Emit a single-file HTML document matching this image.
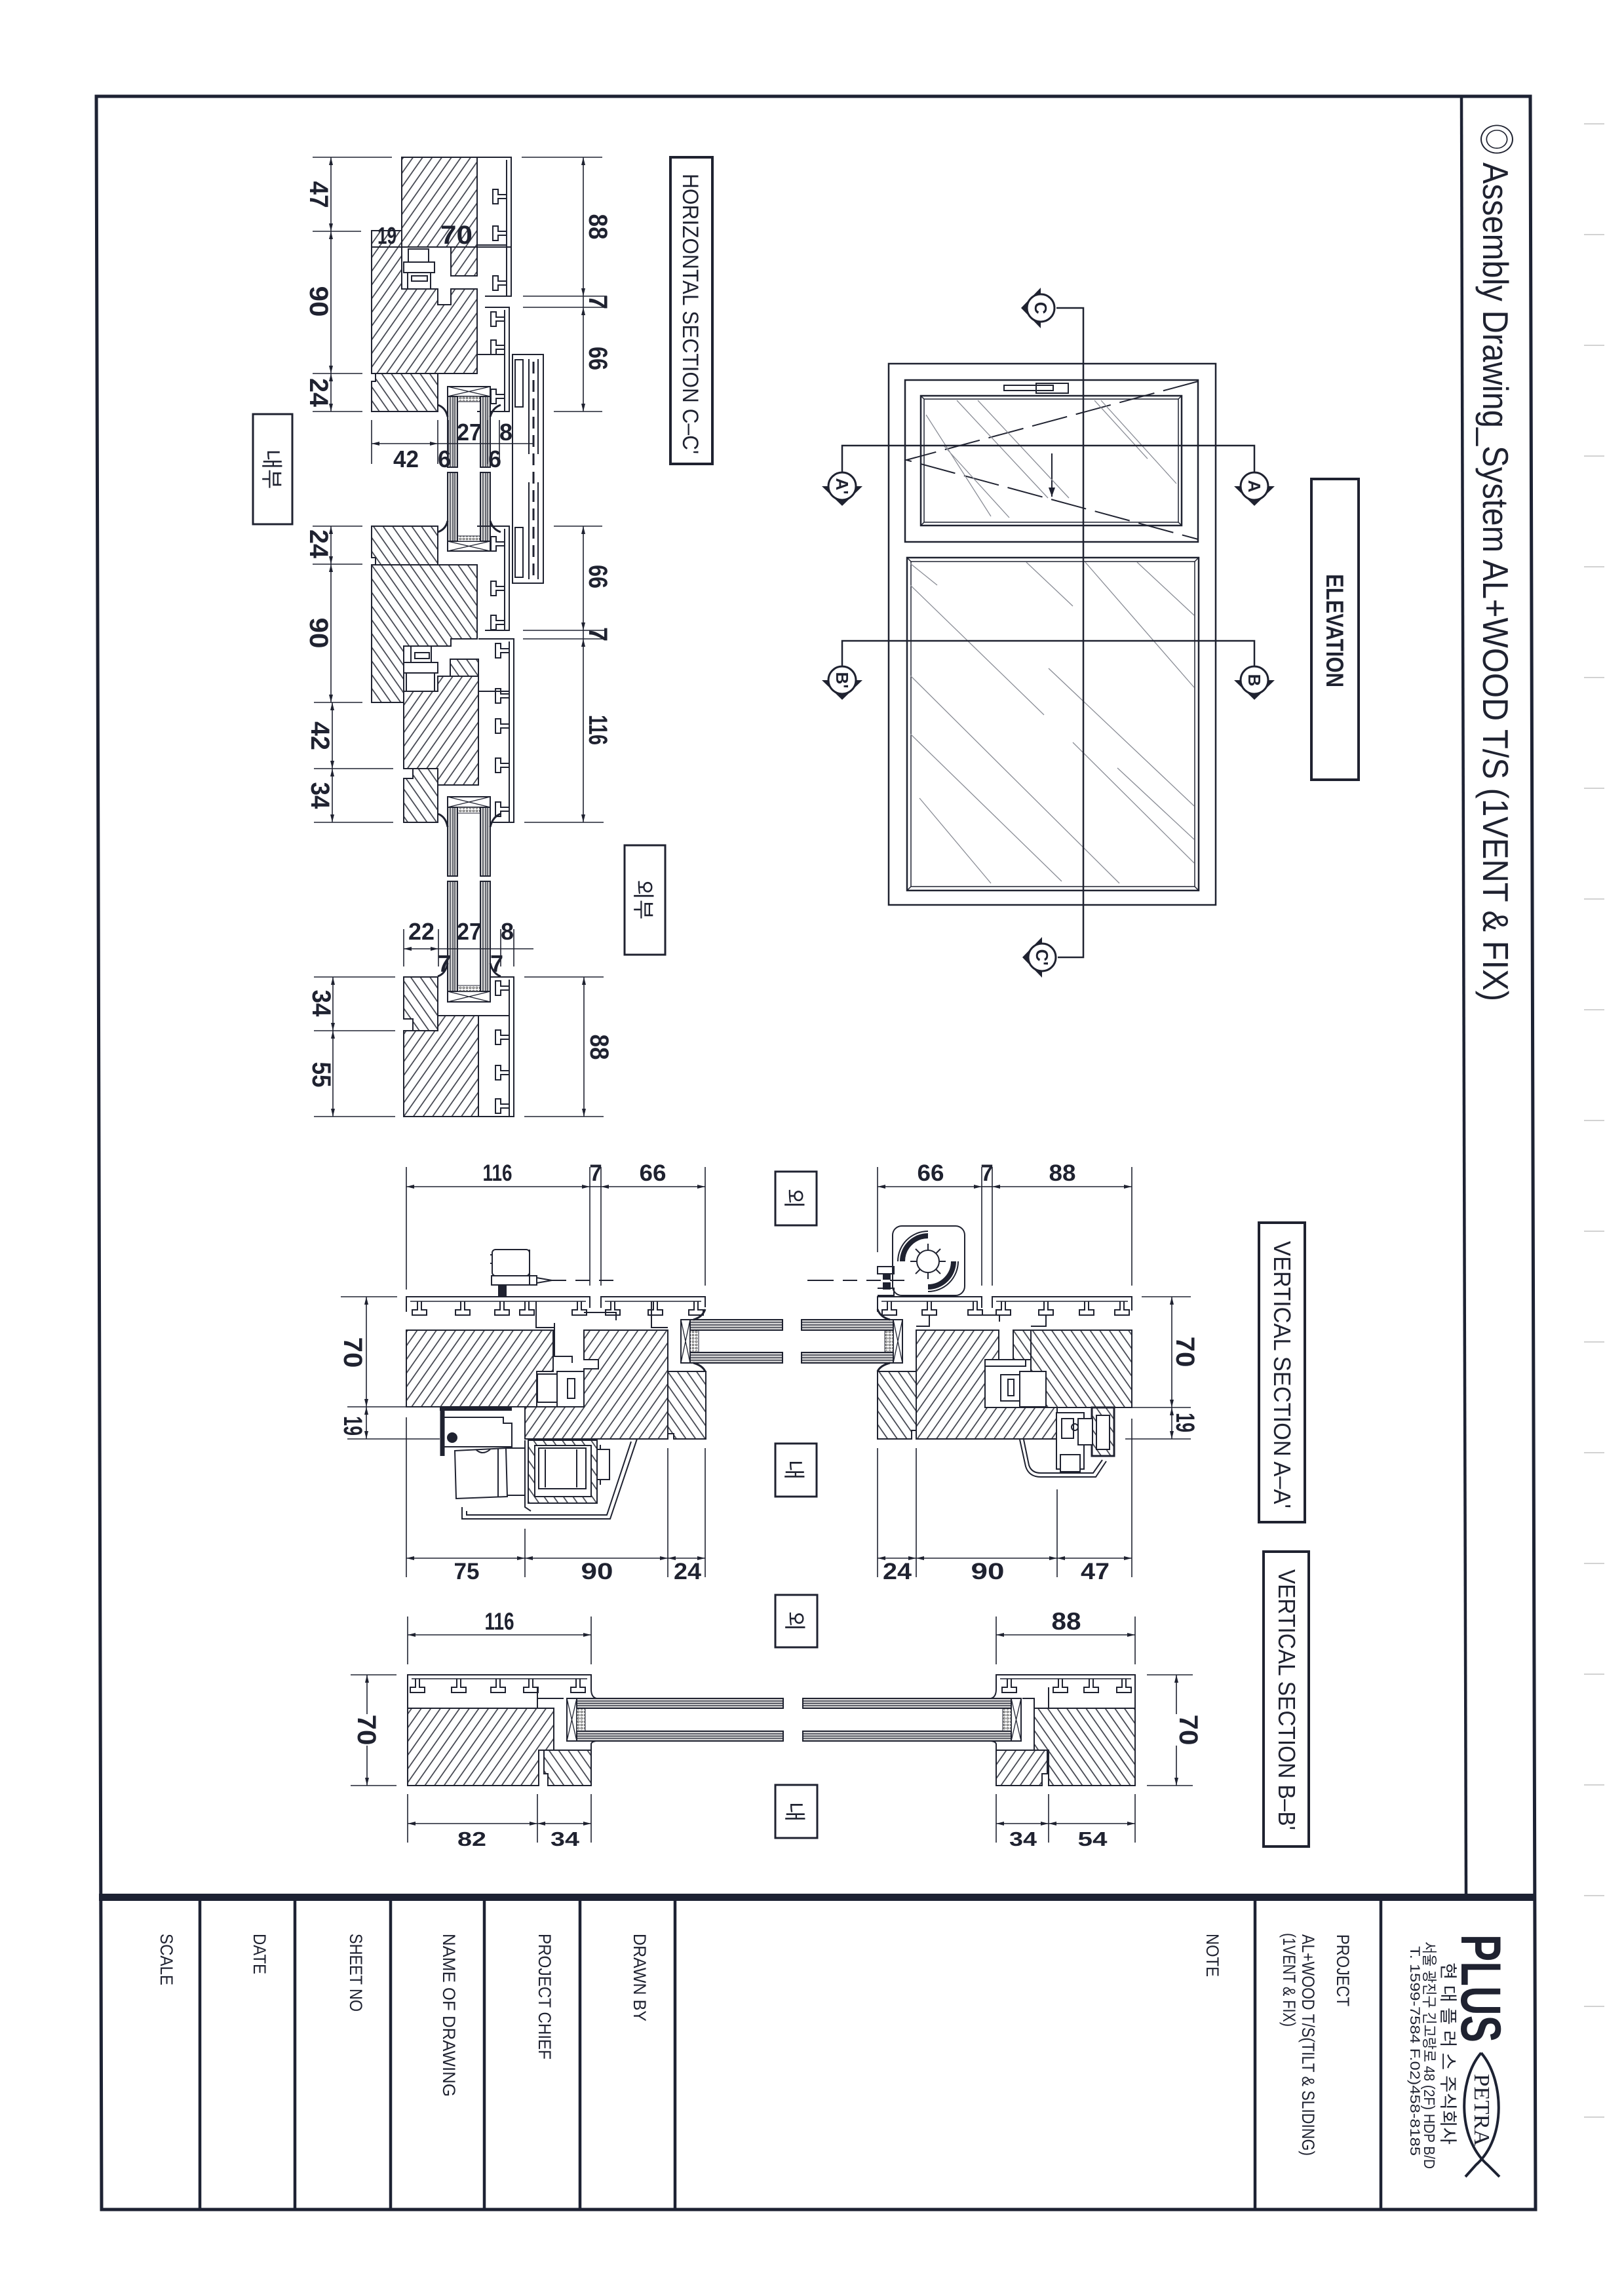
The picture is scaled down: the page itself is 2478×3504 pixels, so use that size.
<!DOCTYPE html>
<html><head><meta charset="utf-8"><title>Assembly Drawing</title>
<style>
html,body{margin:0;padding:0;background:#fff;width:2478px;height:3504px;overflow:hidden}
svg{display:block}
text{font-family:"Liberation Sans","Noto Sans CJK KR",sans-serif;fill:#1f2230;stroke:none}
.b{font-weight:bold}
</style></head><body>
<svg width="2478" height="3504" viewBox="0 0 2478 3504" xmlns="http://www.w3.org/2000/svg" xmlns:xlink="http://www.w3.org/1999/xlink">
<defs>
<pattern id="hA" patternUnits="userSpaceOnUse" width="12" height="12" patternTransform="rotate(35)"><rect width="12" height="12" fill="#fff"/><line x1="6" y1="0" x2="6" y2="12" stroke="#3a3d48" stroke-width="1.7"/></pattern>
<pattern id="hB" patternUnits="userSpaceOnUse" width="12" height="12" patternTransform="rotate(-35)"><rect width="12" height="12" fill="#fff"/><line x1="6" y1="0" x2="6" y2="12" stroke="#3a3d48" stroke-width="1.7"/></pattern>
<pattern id="dots" patternUnits="userSpaceOnUse" width="5" height="5"><rect width="5" height="5" fill="#fff"/><circle cx="2.5" cy="2.5" r="1.4" fill="none" stroke="#333" stroke-width="0.8"/></pattern>
<marker id="ar" viewBox="0 0 12 6" refX="12" refY="3" markerWidth="12" markerHeight="6" markerUnits="userSpaceOnUse" orient="auto-start-reverse"><path d="M0,0 L12,3 L0,6 Z" fill="#1f2230"/></marker>
<marker id="ar2" viewBox="0 0 14 10" refX="14" refY="5" markerWidth="14" markerHeight="10" markerUnits="userSpaceOnUse" orient="auto"><path d="M0,0 L14,5 L0,10 Z" fill="#1f2230"/></marker>
<path id="ts" d="M-3,0 V13 H-11 V21 H11 V13 H3 V0" fill="none" stroke="#1f2230" stroke-width="2"/>
<g id="mk"><path d="M-31,0 L31,0 L0,30 Z" fill="#1f2230"/><circle r="21" fill="#fff" stroke="#1f2230" stroke-width="3"/></g>
</defs>

<!-- ============ PAGE BORDER / TITLE BLOCK ============ -->
<g stroke="#1d2233" fill="none">
<path d="M147,147 L2335,147 L2343,3372 L155,3372 Z" stroke-width="5"/>
<line x1="2230" y1="149" x2="2237" y2="2892" stroke-width="4.5"/>
<path d="M305,2901V3372 M450,2901V3372 M596,2901V3372 M739,2901V3372 M885,2901V3372 M1030,2901V3372 M1915,2901V3372 M2107,2901V3372" stroke-width="4.5"/>
</g>
<rect x="151" y="2890" width="2190" height="11" fill="#1d2233"/>
<g stroke="#c4c4c4" stroke-width="1.5">
<path d="M2417,189H2448 M2417,358H2448 M2417,527H2448 M2417,696H2448 M2417,865H2448 M2417,1034H2448 M2417,1203H2448 M2417,1372H2448 M2417,1541H2448 M2417,1710H2448 M2417,1879H2448 M2417,2048H2448 M2417,2217H2448 M2417,2386H2448 M2417,2555H2448 M2417,2724H2448 M2417,2893H2448 M2417,3062H2448 M2417,3231H2448"/>
</g>

<text transform="translate(2263,188) rotate(90)" font-size="55" textLength="1340" lengthAdjust="spacingAndGlyphs">◎ Assembly Drawing_System AL+WOOD T/S (1VENT &amp; FIX)</text>

<g font-size="27">
<text transform="translate(245,2951) rotate(90)" textLength="79" lengthAdjust="spacingAndGlyphs">SCALE</text>
<text transform="translate(387,2951) rotate(90)" textLength="62" lengthAdjust="spacingAndGlyphs">DATE</text>
<text transform="translate(534,2951) rotate(90)" textLength="119" lengthAdjust="spacingAndGlyphs">SHEET NO</text>
<text transform="translate(676,2951) rotate(90)" textLength="249" lengthAdjust="spacingAndGlyphs">NAME OF DRAWING</text>
<text transform="translate(822,2951) rotate(90)" textLength="192" lengthAdjust="spacingAndGlyphs">PROJECT CHIEF</text>
<text transform="translate(967,2951) rotate(90)" textLength="134" lengthAdjust="spacingAndGlyphs">DRAWN BY</text>
<text transform="translate(1841,2951) rotate(90)" textLength="66" lengthAdjust="spacingAndGlyphs">NOTE</text>
<text transform="translate(2040,2952) rotate(90)" textLength="110" lengthAdjust="spacingAndGlyphs">PROJECT</text>
<text transform="translate(1987,2952) rotate(90)" textLength="338" lengthAdjust="spacingAndGlyphs">AL+WOOD T/S(TILT &amp; SLIDING)</text>
<text transform="translate(1958,2950) rotate(90)" textLength="143" lengthAdjust="spacingAndGlyphs">(1VENT &amp; FIX)</text>
</g>
<!-- logo -->
<text class="b" transform="translate(2230,2952) rotate(90)" font-size="86" textLength="165" lengthAdjust="spacingAndGlyphs" fill="#1d2233">PLUS</text>
<text transform="translate(2200,2995) rotate(90)" font-size="27" textLength="278" lengthAdjust="spacingAndGlyphs" style="font-family:'Liberation Sans','Noto Sans CJK KR',sans-serif">현 대 플 러 스 주식회사</text>
<text transform="translate(2173,2963) rotate(90)" font-size="23" textLength="347" lengthAdjust="spacingAndGlyphs" style="font-family:'Liberation Sans','Noto Sans CJK KR',sans-serif">서울 광진구 긴고랑로 48 (2F) HDP B/D</text>
<text transform="translate(2152,2970) rotate(90)" font-size="21" textLength="320" lengthAdjust="spacingAndGlyphs">T. 1599-7584  F.02)458-8185</text>
<g fill="none" stroke="#1d2233" stroke-width="4">
<path d="M2260,3133 C2226,3172 2222,3262 2270,3304 L2288,3322"/>
<path d="M2260,3133 C2294,3172 2300,3262 2252,3304 L2236,3322"/>
</g>
<text transform="translate(2250,3165) rotate(90)" font-size="34" textLength="110" lengthAdjust="spacingAndGlyphs" style="font-family:'Liberation Serif',serif">PETRA</text>

<!-- ============ SECTION LABEL BOXES ============ -->
<g fill="none" stroke="#1f2230" stroke-width="4">
<rect x="1023" y="240" width="64" height="468"/>
<rect x="2001" y="731" width="72" height="459"/>
<rect x="1921" y="1866" width="70" height="457"/>
<rect x="1928" y="2368" width="69" height="450"/>
</g>
<text transform="translate(1042,265) rotate(90)" font-size="34" textLength="428" lengthAdjust="spacingAndGlyphs">HORIZONTAL SECTION C–C'</text>
<text class="b" transform="translate(2024,876) rotate(90)" font-size="37" textLength="173" lengthAdjust="spacingAndGlyphs">ELEVATION</text>
<text transform="translate(1944,1894) rotate(90)" font-size="36" textLength="408" lengthAdjust="spacingAndGlyphs">VERTICAL SECTION A–A'</text>
<text transform="translate(1951,2395) rotate(90)" font-size="36" textLength="398" lengthAdjust="spacingAndGlyphs">VERTICAL SECTION B–B'</text>

<!-- Korean side labels -->
<g fill="none" stroke="#1f2230" stroke-width="3">
<rect x="386" y="632" width="60" height="168"/>
<rect x="953" y="1290" width="62" height="167"/>
<rect x="1183" y="1788" width="63" height="82"/>
<rect x="1183" y="2203" width="63" height="81"/>
<rect x="1183" y="2434" width="64" height="80"/>
<rect x="1183" y="2724" width="64" height="81"/>
</g>
<g font-size="33" text-anchor="middle">
<text transform="translate(403,716) rotate(90)">내부</text>
<text transform="translate(970,1373) rotate(90)">외부</text>
<text transform="translate(1200,1829) rotate(90)">외</text>
<text transform="translate(1200,2243) rotate(90)">내</text>
<text transform="translate(1201,2474) rotate(90)">외</text>
<text transform="translate(1201,2765) rotate(90)">내</text>
</g>

<!-- ============ HORIZONTAL SECTION C-C' ============ -->
<g stroke="#1f2230" stroke-width="2" fill="none">
<!-- upper vent -->
<path d="M613,240 H728 V377 H613 Z" fill="url(#hA)"/>
<path d="M688,377 H728 V421 H688 Z" fill="url(#hA)"/>
<path d="M567,352 H613 V441 H668 V465 H688 V441 H728 V570 H567 Z" fill="url(#hA)"/>
<line x1="567" y1="377" x2="780" y2="377"/>
<rect x="623" y="380" width="31" height="20" fill="#fff"/>
<rect x="616" y="400" width="47" height="16" fill="#fff"/>
<rect x="622" y="416" width="35" height="25" fill="#fff"/>
<rect x="628" y="421" width="24" height="8" fill="#fff"/>
<path d="M573,570 H668 V628 H567 V582 H573 Z" fill="url(#hB)"/>
<!-- aluminium upper -->
<path d="M728,240 H780 V452 H740 M773,244 V452"/>
<path d="M740,469 H777 V628 H728 M770,473 V628"/>
<path d="M728,541 H770 M728,374 H773"/>
<use xlink:href="#ts" transform="translate(773,300) rotate(90)"/>
<use xlink:href="#ts" transform="translate(773,356) rotate(90)"/>
<use xlink:href="#ts" transform="translate(773,432) rotate(90)"/>
<use xlink:href="#ts" transform="translate(770,487) rotate(90)"/>
<use xlink:href="#ts" transform="translate(770,530) rotate(90)"/>
<use xlink:href="#ts" transform="translate(770,605) rotate(90)"/>
<!-- right hardware -->
<rect x="782" y="541" width="47" height="349" fill="#fff"/>
<rect x="786" y="549" width="12" height="72"/>
<rect x="786" y="805" width="12" height="76"/>
<path d="M807,548 V693 M807,736 V884 M821,548 V693 M821,736 V884"/>
<path d="M814,552 V884" stroke-dasharray="18 10" stroke-width="3"/>
<!-- glass upper -->
<rect x="683" y="590" width="65" height="15" fill="#fff"/><path d="M683,590 L748,605 M748,590 L683,605" stroke-width="1.3"/>
<rect x="698" y="605" width="35" height="8" fill="url(#dots)" stroke-width="1"/>
<rect x="683" y="826" width="65" height="15" fill="#fff"/><path d="M683,826 L748,841 M748,826 L683,841" stroke-width="1.3"/>
<rect x="698" y="818" width="35" height="8" fill="url(#dots)" stroke-width="1"/>
<g fill="#d6d6d6">
<rect x="683" y="605" width="15" height="108"/><rect x="733" y="605" width="15" height="108"/>
<rect x="683" y="721" width="15" height="105"/><rect x="733" y="721" width="15" height="105"/>
</g>
<path d="M687,605V713 M691,605V713 M694,605V713 M737,605V713 M741,605V713 M744,605V713 M687,721V826 M691,721V826 M694,721V826 M737,721V826 M741,721V826 M744,721V826" stroke-width="1.2"/>
<path d="M668,618 Q680,622 683,636 M748,636 Q752,622 764,618 M668,812 Q680,808 683,795 M748,795 Q752,808 764,812" stroke-width="3"/>

<!-- lower (fix) -->
<path d="M567,803 H668 V862 H573 V851 H567 Z" fill="url(#hB)"/>
<path d="M567,862 H728 V975 H688 V986 H616 V1072 H567 Z" fill="url(#hB)"/>
<rect x="687" y="1006" width="43" height="26" fill="url(#hB)"/>
<rect x="627" y="986" width="31" height="25" fill="#fff"/>
<rect x="633" y="996" width="22" height="9" fill="#fff"/>
<rect x="616" y="1011" width="52" height="16" fill="#fff"/>
<rect x="620" y="1027" width="43" height="28" fill="#fff"/>
<path d="M668,1032 H730 V1198 H668 V1173 H616 V1055 H668 Z" fill="url(#hA)"/>
<path d="M630,1173 H668 V1255 H616 V1188 H630 Z" fill="url(#hB)"/>
<path d="M730,975 H784 V1255 H748 M777,979 V1255 M730,1055 H777"/>
<use xlink:href="#ts" transform="translate(777,993) rotate(90)"/>
<use xlink:href="#ts" transform="translate(777,1062) rotate(90)"/>
<use xlink:href="#ts" transform="translate(777,1108) rotate(90)"/>
<use xlink:href="#ts" transform="translate(777,1168) rotate(90)"/>
<use xlink:href="#ts" transform="translate(777,1235) rotate(90)"/>
<path d="M616,1491 H668 V1573 H630 V1555 H616 Z" fill="url(#hB)"/>
<path d="M668,1550 H730 V1704 H616 V1573 H668 Z" fill="url(#hA)"/>
<path d="M748,1491 H784 V1704 H730 M777,1495 V1704 M730,1550 H777"/>
<use xlink:href="#ts" transform="translate(777,1508) rotate(90)"/>
<use xlink:href="#ts" transform="translate(777,1583) rotate(90)"/>
<use xlink:href="#ts" transform="translate(777,1637) rotate(90)"/>
<use xlink:href="#ts" transform="translate(777,1688) rotate(90)"/>
<!-- glass fix -->
<rect x="683" y="1216" width="65" height="16" fill="#fff"/><path d="M683,1216 L748,1232 M748,1216 L683,1232" stroke-width="1.3"/>
<rect x="698" y="1232" width="35" height="9" fill="url(#dots)" stroke-width="1"/>
<rect x="683" y="1513" width="65" height="16" fill="#fff"/><path d="M683,1513 L748,1529 M748,1513 L683,1529" stroke-width="1.3"/>
<rect x="698" y="1504" width="35" height="9" fill="url(#dots)" stroke-width="1"/>
<g fill="#d6d6d6">
<rect x="683" y="1232" width="15" height="105"/><rect x="733" y="1232" width="15" height="105"/>
<rect x="683" y="1345" width="15" height="168"/><rect x="733" y="1345" width="15" height="168"/>
</g>
<path d="M687,1232V1337 M691,1232V1337 M694,1232V1337 M737,1232V1337 M741,1232V1337 M744,1232V1337 M687,1345V1513 M691,1345V1513 M694,1345V1513 M737,1345V1513 M741,1345V1513 M744,1345V1513" stroke-width="1.2"/>
<path d="M668,1242 Q680,1246 683,1262 M748,1262 Q752,1246 764,1242 M668,1490 Q680,1486 683,1470 M748,1470 Q752,1486 764,1490" stroke-width="3"/>
<!-- vent hardware bottom region continuation -->
<path d="M728,803 H777 V962 H740 M770,807 V962"/>
<use xlink:href="#ts" transform="translate(770,830) rotate(90)"/>
<use xlink:href="#ts" transform="translate(770,898) rotate(90)"/>
<use xlink:href="#ts" transform="translate(770,950) rotate(90)"/>
</g>
<!-- horizontal section dims -->
<g stroke="#1f2230" stroke-width="1.6" fill="none">
<path d="M477,240H598 M477,353H551 M477,570H553 M477,628H553 M477,803H553 M477,861H553 M479,1072H553 M479,1173H600 M479,1255H600 M479,1491H603 M479,1573H603 M479,1704H603"/>
<line x1="505" y1="240" x2="505" y2="353" marker-start="url(#ar)" marker-end="url(#ar)"/>
<line x1="505" y1="353" x2="505" y2="570" marker-start="url(#ar)" marker-end="url(#ar)"/>
<line x1="505" y1="570" x2="505" y2="628" marker-start="url(#ar)" marker-end="url(#ar)"/>
<line x1="505" y1="803" x2="505" y2="861" marker-start="url(#ar)" marker-end="url(#ar)"/>
<line x1="505" y1="861" x2="505" y2="1072" marker-start="url(#ar)" marker-end="url(#ar)"/>
<line x1="507" y1="1072" x2="507" y2="1173" marker-start="url(#ar)" marker-end="url(#ar)"/>
<line x1="507" y1="1173" x2="507" y2="1255" marker-start="url(#ar)" marker-end="url(#ar)"/>
<line x1="508" y1="1491" x2="508" y2="1573" marker-start="url(#ar)" marker-end="url(#ar)"/>
<line x1="508" y1="1573" x2="508" y2="1704" marker-start="url(#ar)" marker-end="url(#ar)"/>
<path d="M796,240H919 M798,452H926 M798,469H926 M845,628H919 M845,803H919 M798,962H926 M798,975H926 M800,1255H921 M800,1491H921 M800,1704H921"/>
<line x1="890" y1="240" x2="890" y2="452" marker-start="url(#ar)" marker-end="url(#ar)"/>
<line x1="890" y1="469" x2="890" y2="628" marker-start="url(#ar)" marker-end="url(#ar)"/>
<line x1="890" y1="803" x2="890" y2="962" marker-start="url(#ar)" marker-end="url(#ar)"/>
<line x1="890" y1="975" x2="890" y2="1255" marker-start="url(#ar)" marker-end="url(#ar)"/>
<line x1="891" y1="1491" x2="891" y2="1704" marker-start="url(#ar)" marker-end="url(#ar)"/>
<path d="M890,452V469 M890,962V975"/>
<line x1="567" y1="677" x2="668" y2="677" marker-start="url(#ar)" marker-end="url(#ar)"/>
<line x1="668" y1="677" x2="814" y2="677"/>
<path d="M567,641V708 M668,641V708 M684,641V708 M744,641V708 M762,641V708 M782,641V708"/>
<line x1="616" y1="1448" x2="669" y2="1448" marker-start="url(#ar)" marker-end="url(#ar)"/>
<line x1="669" y1="1448" x2="814" y2="1448"/>
<path d="M616,1418V1475 M669,1418V1475 M764,1418V1475 M784,1418V1475"/>
</g>
<g class="b" font-size="40" text-anchor="middle" font-weight="bold">
<text transform="translate(473,297) rotate(90)" textLength="41" lengthAdjust="spacingAndGlyphs">47</text>
<text transform="translate(473,460) rotate(90)" textLength="47" lengthAdjust="spacingAndGlyphs">90</text>
<text transform="translate(473,599) rotate(90)" textLength="44" lengthAdjust="spacingAndGlyphs">24</text>
<text transform="translate(473,830) rotate(90)" textLength="44" lengthAdjust="spacingAndGlyphs">24</text>
<text transform="translate(473,966) rotate(90)" textLength="47" lengthAdjust="spacingAndGlyphs">90</text>
<text transform="translate(475,1123) rotate(90)" textLength="44" lengthAdjust="spacingAndGlyphs">42</text>
<text transform="translate(475,1214) rotate(90)" textLength="41" lengthAdjust="spacingAndGlyphs">34</text>
<text transform="translate(477,1531) rotate(90)" textLength="41" lengthAdjust="spacingAndGlyphs">34</text>
<text transform="translate(477,1640) rotate(90)" textLength="39" lengthAdjust="spacingAndGlyphs">55</text>
<text transform="translate(899,346) rotate(90)" textLength="39" lengthAdjust="spacingAndGlyphs">88</text>
<text transform="translate(899,461) rotate(90)">7</text>
<text transform="translate(899,547) rotate(90)" textLength="36" lengthAdjust="spacingAndGlyphs">66</text>
<text transform="translate(899,880) rotate(90)" textLength="36" lengthAdjust="spacingAndGlyphs">66</text>
<text transform="translate(899,968) rotate(90)">7</text>
<text transform="translate(899,1114) rotate(90)" textLength="46" lengthAdjust="spacingAndGlyphs">116</text>
<text transform="translate(901,1598) rotate(90)" textLength="39" lengthAdjust="spacingAndGlyphs">88</text>
</g>
<g font-weight="bold" font-size="36">
<text x="576" y="372" textLength="29" lengthAdjust="spacingAndGlyphs">19</text>
<text x="672" y="372" font-size="40" textLength="49" lengthAdjust="spacingAndGlyphs">70</text>
<text x="697" y="672" textLength="38" lengthAdjust="spacingAndGlyphs">27</text>
<text x="762" y="672">8</text>
<text x="600" y="713" textLength="39" lengthAdjust="spacingAndGlyphs">42</text>
<text x="668" y="713">6</text>
<text x="745" y="713">6</text>
<text x="623" y="1434" textLength="40" lengthAdjust="spacingAndGlyphs">22</text>
<text x="697" y="1434" textLength="38" lengthAdjust="spacingAndGlyphs">27</text>
<text x="764" y="1434">8</text>
<text x="668" y="1483">7</text>
<text x="748" y="1483">7</text>
</g>

<!-- ============ ELEVATION ============ -->
<g stroke="#1f2230" fill="none" stroke-width="2.5">
<rect x="1356" y="555" width="499" height="826"/>
<rect x="1381" y="580" width="447" height="247"/>
<rect x="1405" y="604" width="398" height="198"/>
<rect x="1410" y="609" width="388" height="188" stroke-width="1.5"/>
<path d="M1405,604 L1410,609 M1803,604 L1798,609 M1405,802 L1410,797 M1803,802 L1798,797" stroke-width="1.5"/>
<rect x="1384" y="851" width="445" height="508"/>
<rect x="1390" y="857" width="433" height="496" stroke-width="1.5"/>
<path d="M1384,851 L1390,857 M1829,851 L1823,857 M1384,1359 L1390,1353 M1829,1359 L1823,1353" stroke-width="1.5"/>
<rect x="1532" y="588" width="75" height="8" stroke-width="2"/>
<rect x="1581" y="585" width="49" height="15" stroke-width="2"/>
<path d="M1828,582 L1383,702 L1828,823" stroke-dasharray="55 14" stroke-width="2"/>
<line x1="1605" y1="692" x2="1605" y2="758" stroke-width="2" marker-end="url(#ar2)"/>
</g>
<g stroke="#8a8d96" stroke-width="1.3" fill="none">
<path d="M1460,611 L1599,760 M1492,611 L1631,760 M1670,611 L1751,700 M1680,611 L1795,738 M1413,633 L1512,788 M1440,680 L1540,790"/>
<path d="M1389,893 L1593,1091 M1389,860 L1430,893 M1389,1031 L1708,1348 M1403,1218 L1512,1348 M1389,1120 L1620,1345 M1566,858 L1637,925 M1656,858 L1822,1049 M1735,858 L1822,939 M1637,1133 L1822,1317 M1705,1172 L1822,1281 M1600,1020 L1822,1230"/>
</g>
<g stroke="#1f2230" fill="none" stroke-width="2.5">
<path d="M1612,470 H1653 V1461 H1614"/>
<path d="M1285,721 V680 H1914 V721"/>
<path d="M1285,1017 V978 H1914 V1017"/>
</g>
<use xlink:href="#mk" transform="translate(1285,742)"/>
<use xlink:href="#mk" transform="translate(1914,742)"/>
<use xlink:href="#mk" transform="translate(1285,1038)"/>
<use xlink:href="#mk" transform="translate(1914,1038)"/>
<use xlink:href="#mk" transform="translate(1588,470) rotate(90)"/>
<use xlink:href="#mk" transform="translate(1590,1461) rotate(90)"/>
<g font-size="26" font-weight="bold" text-anchor="middle">
<text transform="translate(1276,742) rotate(90)">A'</text>
<text transform="translate(1905,742) rotate(90)">A</text>
<text transform="translate(1276,1038) rotate(90)">B'</text>
<text transform="translate(1905,1038) rotate(90)">B</text>
<text transform="translate(1579,470) rotate(90)">C</text>
<text transform="translate(1581,1461) rotate(90)">C'</text>
</g>

<!-- ============ VERTICAL SECTION A-A' ============ -->
<g stroke="#1f2230" stroke-width="2" fill="none">
<!-- left profile -->
<path d="M620,2002 V1979 H900 V1996"/>
<path d="M626,1986 H894" stroke-width="1.5"/>
<use xlink:href="#ts" x="640" y="1986"/><use xlink:href="#ts" x="706" y="1986"/><use xlink:href="#ts" x="766" y="1986"/><use xlink:href="#ts" x="804" y="1986"/><use xlink:href="#ts" x="884" y="1986"/>
<path d="M818,1986 V2026 H846 M846,2019 V2070 H873 V2080"/>
<path d="M917,1996 V1979 H1076 V1995"/>
<path d="M923,1986 H1070" stroke-width="1.5"/>
<use xlink:href="#ts" x="935" y="1986"/><use xlink:href="#ts" x="1000" y="1986"/><use xlink:href="#ts" x="1062" y="1986"/>
<path d="M994,1986 V2026 H1019 M891,2003 H940 V2015"/>
<!-- handle -->
<rect x="751" y="1907" width="57" height="40" rx="5" fill="#fff"/>
<path d="M808,1907 V1961 M750,1947 H819 V1961 H750 Z M819,1950 L842,1954 L819,1958"/>
<path d="M748,1915 H751 M748,1928 H751"/>
<rect x="761" y="1961" width="11" height="18" fill="#1f2230"/>
<path d="M842,1954 H940" stroke-dasharray="22 14"/>
<!-- wood -->
<path d="M620,2030 H844 V2093 H819 V2147 H620 Z" fill="url(#hA)"/>
<path d="M891,2030 H1019 V2196 H801 V2147 H891 V2089 H913 V2075 H891 Z" fill="url(#hA)"/>
<path d="M1019,2093 H1077 V2196 H1028 V2188 H1019 Z" fill="url(#hB)"/>
<rect x="820" y="2097" width="30" height="43" fill="#fff"/>
<rect x="850" y="2093" width="41" height="54" fill="#fff"/>
<rect x="866" y="2104" width="11" height="30" fill="#fff"/>
<!-- lower hardware -->
<path d="M671,2150 H781" stroke-width="6"/>
<path d="M675,2150 V2222" stroke-width="7"/>
<path d="M678,2163 H768 V2172 H781 V2208 H678"/>
<circle cx="690" cy="2194" r="7" fill="#1f2230"/>
<path d="M694,2214 L772,2210 L774,2284 L696,2287 Z" fill="#fff"/>
<path d="M772,2210 H801 V2282 H774 M726,2212 Q736,2222 748,2212 M760,2211 V2285"/>
<rect x="806" y="2198" width="105" height="96" fill="url(#hB)"/>
<rect x="816" y="2206" width="86" height="78" fill="#fff"/>
<rect x="822" y="2210" width="72" height="62" fill="#fff"/>
<path d="M832,2212 V2270 M880,2212 V2270"/>
<path d="M911,2212 H930 V2258 H911 M916,2205 V2212 M916,2258 V2266"/>
<path d="M705,2300 V2318 H931 L972,2196 M712,2306 V2312 H926 L963,2200"/>
<path d="M801,2198 V2300 L810,2306"/>
<!-- glass -->
<rect x="1039" y="2014" width="14" height="66" fill="#fff"/><path d="M1039,2014 L1053,2080 M1053,2014 L1039,2080" stroke-width="1.3"/>
<rect x="1053" y="2030" width="13" height="34" fill="url(#dots)" stroke-width="1"/>
<rect x="1363" y="2014" width="14" height="66" fill="#fff"/><path d="M1363,2014 L1377,2080 M1377,2014 L1363,2080" stroke-width="1.3"/>
<rect x="1350" y="2030" width="13" height="34" fill="url(#dots)" stroke-width="1"/>
<g fill="#d6d6d6">
<rect x="1053" y="2014" width="141" height="16"/><rect x="1053" y="2064" width="141" height="16"/>
<rect x="1223" y="2014" width="140" height="16"/><rect x="1223" y="2064" width="140" height="16"/>
</g>
<path d="M1053,2018H1194 M1053,2022H1194 M1053,2026H1194 M1053,2068H1194 M1053,2072H1194 M1053,2076H1194 M1223,2018H1363 M1223,2022H1363 M1223,2026H1363 M1223,2068H1363 M1223,2072H1363 M1223,2076H1363" stroke-width="1.2"/>
<path d="M1076,1998 Q1072,2010 1058,2014 M1058,2080 Q1072,2084 1076,2093 M1339,1998 Q1343,2010 1358,2014 M1358,2080 Q1343,2084 1339,2093" stroke-width="3"/>
<!-- right profile -->
<path d="M1339,2002 V1979 H1498 V1996"/>
<path d="M1345,1986 H1492" stroke-width="1.5"/>
<use xlink:href="#ts" x="1357" y="1986"/><use xlink:href="#ts" x="1418" y="1986"/><use xlink:href="#ts" x="1488" y="1986"/>
<path d="M1514,1996 V1979 H1727 V2000"/>
<path d="M1520,1986 H1721" stroke-width="1.5"/>
<use xlink:href="#ts" x="1531" y="1986"/><use xlink:href="#ts" x="1596" y="1986"/><use xlink:href="#ts" x="1658" y="1986"/><use xlink:href="#ts" x="1712" y="1986"/>
<path d="M1496,2007 H1525 V2017 M1418,2007 V2024 H1398 M1596,2007 V2024 H1573"/>
<!-- roller hinge -->
<rect x="1362" y="1871" width="110" height="106" rx="14" fill="#fff"/>
<circle cx="1416" cy="1925" r="17" fill="#fff"/>
<path d="M1416,1908 V1898 M1416,1942 V1952 M1399,1925 H1389 M1433,1925 H1443 M1404,1913 L1397,1906 M1428,1937 L1435,1944 M1428,1913 L1435,1906 M1404,1937 L1397,1944"/>
<path d="M1377,1925 A39,39 0 0 1 1416,1886" stroke-width="8"/>
<path d="M1455,1925 A39,39 0 0 1 1416,1964" stroke-width="8"/>
<path d="M1370,1925 A46,46 0 0 1 1416,1879 M1462,1925 A46,46 0 0 1 1416,1971" stroke-width="2"/>
<path d="M1339,1933 H1364 V1944 H1339 Z M1339,1966 H1364 V1977 H1339"/>
<rect x="1348" y="1944" width="10" height="8" fill="#1f2230"/>
<rect x="1348" y="1958" width="10" height="9" fill="#1f2230"/>
<path d="M1250,1954 H1390" stroke-dasharray="22 14"/>
<path d="M1232,1954 H1250"/>
<!-- wood right -->
<path d="M1339,2093 H1398 V2183 H1391 V2196 H1339 Z" fill="url(#hB)"/>
<path d="M1398,2030 H1524 V2075 H1503 V2148 H1613 V2196 H1398 Z" fill="url(#hA)"/>
<rect x="1546" y="2030" width="27" height="45" fill="url(#hB)"/>
<path d="M1573,2030 H1727 V2148 H1596 V2095 H1573 Z" fill="url(#hB)"/>
<rect x="1503" y="2075" width="62" height="10" fill="#fff"/>
<rect x="1527" y="2098" width="29" height="40" fill="#fff"/>
<rect x="1538" y="2105" width="9" height="25" fill="#fff"/>
<rect x="1556" y="2093" width="40" height="54" fill="#fff"/>
<!-- lower hardware right -->
<path d="M1556,2197 L1565,2238 Q1570,2254 1588,2254 H1672 L1688,2230"/>
<path d="M1562,2197 L1570,2236 Q1574,2248 1588,2248 H1668 L1682,2228"/>
<rect x="1612" y="2156" width="42" height="86" fill="#fff"/>
<rect x="1620" y="2165" width="18" height="30"/>
<circle cx="1640" cy="2178" r="5"/>
<rect x="1618" y="2220" width="30" height="26" fill="#fff"/>
<rect x="1666" y="2148" width="34" height="74" fill="url(#hB)" stroke-width="3"/>
<rect x="1673" y="2160" width="20" height="52" fill="#fff"/>
<rect x="1645" y="2165" width="22" height="40" fill="#fff"/>
</g>
<!-- A-A' dims -->
<g stroke="#1f2230" stroke-width="1.6" fill="none">
<path d="M620,1781V1968 M900,1781V1962 M917,1781V1962 M1076,1781V1962"/>
<line x1="620" y1="1811" x2="900" y2="1811" marker-start="url(#ar)" marker-end="url(#ar)"/>
<line x1="900" y1="1811" x2="917" y2="1811"/>
<line x1="917" y1="1811" x2="1076" y2="1811" marker-start="url(#ar)" marker-end="url(#ar)"/>
<path d="M1339,1781V1911 M1498,1781V1962 M1514,1781V1962 M1727,1781V1962"/>
<line x1="1339" y1="1811" x2="1498" y2="1811" marker-start="url(#ar)" marker-end="url(#ar)"/>
<line x1="1498" y1="1811" x2="1514" y2="1811"/>
<line x1="1514" y1="1811" x2="1727" y2="1811" marker-start="url(#ar)" marker-end="url(#ar)"/>
<path d="M620,2163V2407 M801,2333V2407 M1019,2210V2407 M1076,2210V2407"/>
<line x1="620" y1="2378" x2="801" y2="2378" marker-start="url(#ar)" marker-end="url(#ar)"/>
<line x1="801" y1="2378" x2="1019" y2="2378" marker-start="url(#ar)" marker-end="url(#ar)"/>
<line x1="1019" y1="2378" x2="1076" y2="2378" marker-start="url(#ar)" marker-end="url(#ar)"/>
<path d="M1339,2210V2407 M1398,2210V2407 M1613,2273V2407 M1727,2165V2407"/>
<line x1="1339" y1="2378" x2="1398" y2="2378" marker-start="url(#ar)" marker-end="url(#ar)"/>
<line x1="1398" y1="2378" x2="1613" y2="2378" marker-start="url(#ar)" marker-end="url(#ar)"/>
<line x1="1613" y1="2378" x2="1727" y2="2378" marker-start="url(#ar)" marker-end="url(#ar)"/>
<path d="M520,1979H606 M530,2147H671 M530,2196H671"/>
<line x1="559" y1="1979" x2="559" y2="2147" marker-start="url(#ar)" marker-end="url(#ar)"/>
<line x1="559" y1="2147" x2="559" y2="2196" marker-start="url(#ar)" marker-end="url(#ar)"/>
<path d="M1742,1979H1817 M1727,2148H1817 M1717,2196H1817"/>
<line x1="1788" y1="1979" x2="1788" y2="2148" marker-start="url(#ar)" marker-end="url(#ar)"/>
<line x1="1788" y1="2148" x2="1788" y2="2196" marker-start="url(#ar)" marker-end="url(#ar)"/>
</g>
<g font-size="35" font-weight="bold" text-anchor="middle">
<text x="759" y="1802" textLength="45" lengthAdjust="spacingAndGlyphs">116</text>
<text x="909" y="1802">7</text>
<text x="996" y="1802" textLength="41" lengthAdjust="spacingAndGlyphs">66</text>
<text x="1420" y="1802" textLength="41" lengthAdjust="spacingAndGlyphs">66</text>
<text x="1506" y="1802">7</text>
<text x="1621" y="1802" textLength="41" lengthAdjust="spacingAndGlyphs">88</text>
<text x="712" y="2410" textLength="39" lengthAdjust="spacingAndGlyphs">75</text>
<text x="911" y="2410" textLength="49" lengthAdjust="spacingAndGlyphs">90</text>
<text x="1049" y="2410" textLength="42" lengthAdjust="spacingAndGlyphs">24</text>
<text x="1369" y="2410" textLength="44" lengthAdjust="spacingAndGlyphs">24</text>
<text x="1507" y="2410" textLength="51" lengthAdjust="spacingAndGlyphs">90</text>
<text x="1671" y="2410" textLength="44" lengthAdjust="spacingAndGlyphs">47</text>
</g>
<g font-size="40" font-weight="bold" text-anchor="middle">
<text transform="translate(525,2064) rotate(90)" textLength="47" lengthAdjust="spacingAndGlyphs">70</text>
<text transform="translate(525,2176) rotate(90)" textLength="30" lengthAdjust="spacingAndGlyphs">19</text>
<text transform="translate(1795,2063) rotate(90)" textLength="47" lengthAdjust="spacingAndGlyphs">70</text>
<text transform="translate(1795,2171) rotate(90)" textLength="30" lengthAdjust="spacingAndGlyphs">19</text>
</g>

<!-- ============ VERTICAL SECTION B-B' ============ -->
<g stroke="#1f2230" stroke-width="2" fill="none">
<!-- left -->
<path d="M622,2607 V2556 H902 V2578 Q902,2590 910,2592"/>
<path d="M628,2562 H896" stroke-width="1.5"/>
<use xlink:href="#ts" x="637" y="2562"/><use xlink:href="#ts" x="700" y="2562"/><use xlink:href="#ts" x="760" y="2562"/><use xlink:href="#ts" x="810" y="2562"/><use xlink:href="#ts" x="882" y="2562"/>
<path d="M820,2575 V2607 H622 M820,2607 V2592 H860"/>
<path d="M622,2607 H845 V2671 H822 V2725 H622 Z" fill="url(#hA)"/>
<path d="M830,2671 H902 V2725 H836 V2707 H830 Z" fill="url(#hB)"/>
<path d="M902,2671 V2662 Q902,2658 910,2657"/>
<!-- right -->
<path d="M1732,2607 V2556 H1520 V2578 Q1520,2590 1512,2592"/>
<path d="M1526,2562 H1726" stroke-width="1.5"/>
<use xlink:href="#ts" x="1540" y="2562"/><use xlink:href="#ts" x="1618" y="2562"/><use xlink:href="#ts" x="1665" y="2562"/><use xlink:href="#ts" x="1715" y="2562"/>
<path d="M1600,2575 V2607 H1732 M1578,2607 V2592 H1560"/>
<path d="M1578,2607 H1732 V2725 H1600 V2671 H1578 Z" fill="url(#hB)"/>
<path d="M1520,2671 H1598 V2707 H1590 V2725 H1520 Z" fill="url(#hA)"/>
<path d="M1520,2671 V2662 Q1520,2658 1512,2657"/>
<!-- glass -->
<rect x="865" y="2592" width="15" height="65" fill="#fff"/><path d="M865,2592 L880,2657 M880,2592 L865,2657" stroke-width="1.3"/>
<rect x="880" y="2607" width="13" height="35" fill="url(#dots)" stroke-width="1"/>
<rect x="1543" y="2592" width="15" height="65" fill="#fff"/><path d="M1543,2592 L1558,2657 M1558,2592 L1543,2657" stroke-width="1.3"/>
<rect x="1530" y="2607" width="13" height="35" fill="url(#dots)" stroke-width="1"/>
<g fill="#d6d6d6">
<rect x="880" y="2592" width="315" height="15"/><rect x="880" y="2642" width="315" height="15"/>
<rect x="1225" y="2592" width="318" height="15"/><rect x="1225" y="2642" width="318" height="15"/>
</g>
<path d="M880,2596H1195 M880,2599.5H1195 M880,2603H1195 M880,2646H1195 M880,2649.5H1195 M880,2653H1195 M1225,2596H1543 M1225,2599.5H1543 M1225,2603H1543 M1225,2646H1543 M1225,2649.5H1543 M1225,2653H1543" stroke-width="1.2"/>
</g>
<!-- B-B' dims -->
<g stroke="#1f2230" stroke-width="1.6" fill="none">
<path d="M622,2467V2540 M902,2467V2540 M1520,2467V2540 M1732,2467V2540"/>
<line x1="622" y1="2495" x2="902" y2="2495" marker-start="url(#ar)" marker-end="url(#ar)"/>
<line x1="1520" y1="2495" x2="1732" y2="2495" marker-start="url(#ar)" marker-end="url(#ar)"/>
<path d="M535,2556H605 M535,2725H605 M1750,2556H1820 M1750,2725H1820"/>
<line x1="560" y1="2556" x2="560" y2="2616" marker-start="url(#ar)"/>
<line x1="560" y1="2664" x2="560" y2="2725" marker-end="url(#ar)"/>
<line x1="1795" y1="2556" x2="1795" y2="2616" marker-start="url(#ar)"/>
<line x1="1795" y1="2664" x2="1795" y2="2725" marker-end="url(#ar)"/>
<path d="M622,2738V2812 M820,2738V2812 M902,2738V2812 M1520,2738V2812 M1600,2738V2812 M1732,2738V2812"/>
<line x1="622" y1="2783" x2="820" y2="2783" marker-start="url(#ar)" marker-end="url(#ar)"/>
<line x1="820" y1="2783" x2="902" y2="2783" marker-start="url(#ar)" marker-end="url(#ar)"/>
<line x1="1520" y1="2783" x2="1600" y2="2783" marker-start="url(#ar)" marker-end="url(#ar)"/>
<line x1="1600" y1="2783" x2="1732" y2="2783" marker-start="url(#ar)" marker-end="url(#ar)"/>
</g>
<g font-weight="bold" text-anchor="middle">
<text x="762" y="2487" font-size="37" textLength="45" lengthAdjust="spacingAndGlyphs">116</text>
<text x="1627" y="2487" font-size="37" textLength="45" lengthAdjust="spacingAndGlyphs">88</text>
<text x="720" y="2817" font-size="31" textLength="44" lengthAdjust="spacingAndGlyphs">82</text>
<text x="862" y="2817" font-size="31" textLength="44" lengthAdjust="spacingAndGlyphs">34</text>
<text x="1561" y="2817" font-size="31" textLength="42" lengthAdjust="spacingAndGlyphs">34</text>
<text x="1667" y="2817" font-size="31" textLength="45" lengthAdjust="spacingAndGlyphs">54</text>
<text transform="translate(546,2640) rotate(90)" font-size="40" textLength="47" lengthAdjust="spacingAndGlyphs">70</text>
<text transform="translate(1800,2640) rotate(90)" font-size="40" textLength="47" lengthAdjust="spacingAndGlyphs">70</text>
</g>
</svg>
</body></html>
